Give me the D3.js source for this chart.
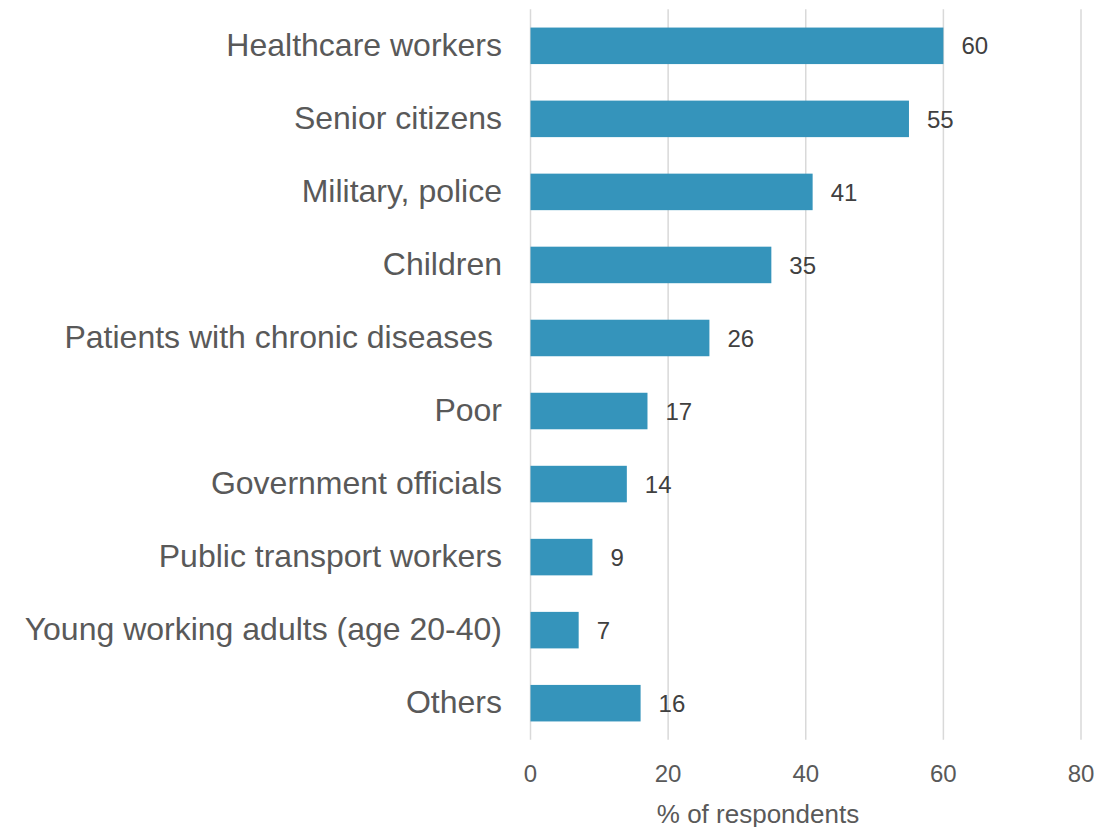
<!DOCTYPE html>
<html>
<head>
<meta charset="utf-8">
<script src="https://cdn.jsdelivr.net/npm/d3@7"></script>
<style>
  html, body { margin: 0; padding: 0; background: #ffffff; }
  svg { display: block; font-family: "Liberation Sans", Arial, sans-serif; }
</style>
</head>
<body>
<svg id="chart" width="1118" height="827"></svg>
<script>
// Groups that should be prioritised, share of respondents (%)
const categories = [
  "Healthcare workers",
  "Senior citizens",
  "Military, police",
  "Children",
  "Patients with chronic diseases ",
  "Poor",
  "Government officials",
  "Public transport workers",
  "Young working adults (age 20-40)",
  "Others"
];
const values = [60, 55, 41, 35, 26, 17, 14, 9, 7, 16];
const xTicks = [0, 20, 40, 60, 80];
const xTitle = "% of respondents";

const svg = d3.select("#chart");

const x = d3.scaleLinear().domain([0, 80]).range([530.5, 1081]);
const y = d3.scaleBand()
  .domain(categories)
  .range([9.3, 739.7])
  .paddingInner(0.5)
  .paddingOuter(0.25);

// vertical gridlines
svg.append("g")
  .selectAll("line")
  .data(xTicks)
  .join("line")
  .attr("x1", d => x(d)).attr("x2", d => x(d))
  .attr("y1", y.range()[0]).attr("y2", y.range()[1])
  .attr("stroke", "#d9d9d9")
  .attr("stroke-width", 1.5);

// tick labels
svg.append("g")
  .selectAll("text")
  .data(xTicks)
  .join("text")
  .attr("x", d => x(d))
  .attr("y", 782)
  .attr("text-anchor", "middle")
  .attr("font-size", 24)
  .attr("fill", "#595959")
  .text(d => d);

// axis title
svg.append("text")
  .attr("x", 758)
  .attr("y", 822.5)
  .attr("text-anchor", "middle")
  .attr("font-size", 26)
  .attr("fill", "#595959")
  .text(xTitle);

const rows = categories.map((c, i) => ({ c, v: values[i] }));

// bars
svg.append("g")
  .selectAll("rect")
  .data(rows)
  .join("rect")
  .attr("x", x(0))
  .attr("y", d => y(d.c))
  .attr("width", d => x(d.v) - x(0))
  .attr("height", y.bandwidth())
  .attr("fill", "#3594bb");

// value labels
svg.append("g")
  .selectAll("text")
  .data(rows)
  .join("text")
  .attr("x", d => x(d.v) + 18)
  .attr("y", d => y(d.c) + y.bandwidth() / 2)
  .attr("dy", "0.36em")
  .attr("font-size", 24)
  .attr("fill", "#404040")
  .text(d => d.v);

// category labels
svg.append("g")
  .selectAll("text")
  .data(rows)
  .join("text")
  .attr("x", 502)
  .attr("y", d => y(d.c) + y.bandwidth() / 2)
  .attr("dy", "0.31em")
  .attr("text-anchor", "end")
  .attr("font-size", 32)
  .attr("fill", "#595959")
  .style("white-space", "pre")
  .text(d => d.c);
</script>
</body>
</html>
